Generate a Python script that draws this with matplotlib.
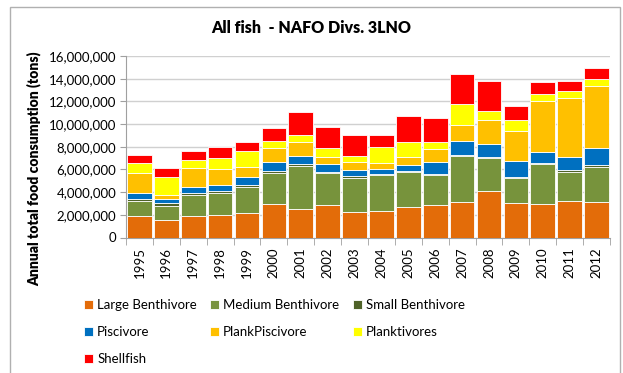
import matplotlib.pyplot as plt
from matplotlib.patches import Rectangle
from matplotlib.ticker import FuncFormatter
import numpy as np

years = [str(y) for y in range(1995, 2013)]

large_benth = [1.91, 1.53, 1.88, 1.97, 2.15, 2.97, 2.47, 2.88, 2.29, 2.32,
               2.65, 2.85, 3.15, 4.12, 3.03, 2.94, 3.18, 3.15]
medium_benth = [1.29, 1.26, 1.91, 1.97, 2.32, 2.74, 3.82, 2.77, 2.97, 3.18,
                3.11, 2.65, 4.00, 2.85, 2.23, 3.50, 2.61, 3.09]
small_benth = [0.15, 0.21, 0.12, 0.12, 0.12, 0.11, 0.15, 0.11, 0.12, 0.12,
               0.12, 0.12, 0.14, 0.15, 0.09, 0.12, 0.12, 0.11]
piscivore = [0.53, 0.38, 0.56, 0.56, 0.76, 0.80, 0.77, 0.74, 0.56, 0.41,
             0.53, 1.03, 1.24, 1.14, 1.39, 0.94, 1.21, 1.50]
plank_pisc = [1.82, 0.36, 1.68, 1.38, 0.89, 1.23, 1.23, 0.62, 0.68, 0.56,
              0.71, 1.11, 1.41, 2.09, 2.64, 4.50, 5.17, 5.50]
planktivores = [0.83, 1.58, 0.67, 1.00, 1.41, 0.62, 0.59, 0.76, 0.59, 1.41,
                1.32, 0.68, 1.80, 0.83, 0.94, 0.65, 0.59, 0.65]
shellfish = [0.71, 0.80, 0.77, 0.94, 0.73, 1.18, 2.06, 1.88, 1.85, 1.00,
             2.24, 2.06, 2.64, 2.64, 1.30, 1.03, 0.91, 0.91]

series = [
    ("Large Benthivore", large_benth, "#E36C09"),
    ("Medium Benthivore", medium_benth, "#77933C"),
    ("Small Benthivore", small_benth, "#4F6228"),
    ("Piscivore", piscivore, "#0070C0"),
    ("PlankPiscivore", plank_pisc, "#FFC000"),
    ("Planktivores", planktivores, "#FFFF00"),
    ("Shellfish", shellfish, "#FF0000"),
]

plt.rcParams['font.family'] = ['Lato', 'DejaVu Sans']

fig = plt.figure(figsize=(6.23, 3.73), dpi=100)
ax = fig.add_axes([126 / 623, 1 - 237.5 / 373, 484 / 623, 181.5 / 373])

x = np.arange(len(years))
bottom = np.zeros(len(years))
handles = []
for name, vals, color in series:
    v = np.array(vals) * 1e6
    b = ax.bar(x, v, 0.92, bottom=bottom, color=color, edgecolor="white",
               linewidth=0.6, label=name, zorder=3)
    handles.append(b)
    bottom += v

ax.set_xlim(-0.5, len(years) - 0.5)
ax.set_ylim(0, 16e6)
ax.set_yticks(np.arange(0, 16e6 + 1, 2e6))
ax.yaxis.set_major_formatter(FuncFormatter(lambda v, p: f"{int(v):,}"))
ax.grid(axis="y", color="#d0d0d0", linewidth=1, zorder=0)

ax.set_xticks(x)
ax.set_xticklabels(years, rotation=90, fontsize=9.5)
ax.tick_params(axis="x", length=0, pad=7)
ax.set_xticks(np.arange(-0.5, len(years)), minor=True)
ax.tick_params(axis="x", which="minor", length=5, color="#a0a0a0")
ax.tick_params(axis="y", labelsize=9.5, length=4, color="#a0a0a0", pad=3)

for s in ["top", "right"]:
    ax.spines[s].set_visible(False)
for s in ["left", "bottom"]:
    ax.spines[s].set_color("#a0a0a0")

ax.set_ylabel("Annual total food consumption (tons)", fontsize=10,
              fontweight="heavy")
ax.yaxis.set_label_coords(-0.175, 0.38)

fig.text(0.5, 0.925, "All fish  - NAFO Divs. 3LNO", ha="center",
         va="center", fontsize=11.5, fontweight="heavy")

# legend fills by column, so reorder to read row by row
order = [0, 3, 6, 1, 4, 2, 5]
fig.legend(handles=[handles[i] for i in order], loc="upper left",
           bbox_to_anchor=(72 / 623, 1 - 287 / 373),
           ncol=3, frameon=False, fontsize=9.5, handlelength=0.7,
           handleheight=0.7, handletextpad=0.3, columnspacing=1.0,
           labelspacing=1.15)

fig.patches.append(Rectangle((10 / 623, -0.05), 610 / 623, 1 - 7 / 373 + 0.05,
                             transform=fig.transFigure, fill=False,
                             edgecolor="#b0b0b0", linewidth=1))

fig.savefig("out.png", dpi=100)
